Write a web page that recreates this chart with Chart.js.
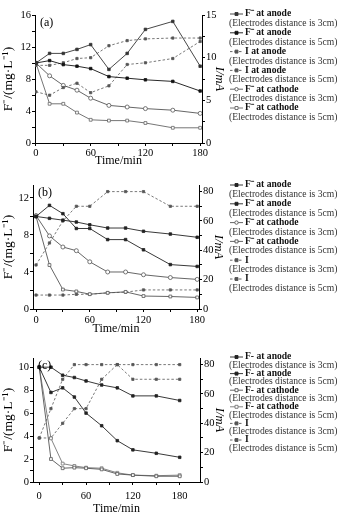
<!DOCTYPE html>
<html>
<head>
<meta charset="utf-8">
<script src="https://cdn.jsdelivr.net/npm/chart.js@4.4.1/dist/chart.umd.min.js"></script>
<style>
  body { margin: 0; background: #fff; }
  #wrap { position: relative; width: 359px; height: 514px; overflow: hidden; }
  canvas { position: absolute; left: 0; }
</style>
</head>
<body>
<div id="wrap">
  <canvas id="chartA" width="359" height="168" style="top:0px"></canvas>
  <canvas id="chartB" width="359" height="168" style="top:168px"></canvas>
  <canvas id="chartC" width="359" height="180" style="top:336px"></canvas>
</div>
<script>
// sampling times (min), same for all three panels
var timeMin = [0, 15, 30, 45, 60, 80, 100, 120, 150, 180];

// panel (a)  F- in mg/L (left), I in mA (right)
var aF_anode3 = [10, 11.2, 11.2, 11.7, 12.3, 9.2, 11.2, 14.2, 15.2, 9.6];
var aF_anode5 = [10, 10.3, 9.8, 9.6, 9.3, 8.3, 8.1, 7.9, 7.7, 6.5];
var aI_anode3 = [9.1, 9.1, 9.4, 9.9, 10.0, 11.4, 12.0, 12.2, 12.3, 12.3];
var aI_anode5 = [6.0, 5.6, 6.5, 7.0, 5.9, 6.7, 9.2, 9.4, 9.9, 11.9];
var aF_cathode3 = [10, 8.4, 7.2, 6.6, 5.6, 4.7, 4.5, 4.3, 4.1, 3.7];
var aF_cathode5 = [10, 4.9, 4.9, 3.8, 2.9, 2.8, 2.8, 2.5, 1.9, 1.9];

// panel (b)
var bF_anode3 = [10, 11.2, 10.3, 8.7, 8.7, 7.5, 7.5, 6.4, 4.8, 4.6];
var bF_anode5 = [10, 9.8, 9.6, 9.4, 9.1, 8.75, 8.75, 8.4, 8.1, 7.75];
var bF_cathode3 = [10.1, 7.9, 6.7, 6.3, 5.1, 4.0, 4.0, 3.7, 3.4, 3.2];
var bF_cathode5 = [10, 4.75, 2.1, 1.9, 1.6, 1.75, 1.85, 1.4, 1.35, 1.25];
var bI3 = [30, 45, 60, 70, 70, 80, 80, 80, 70, 70];
var bI5 = [9.5, 9.5, 9.5, 10, 10, 11, 11.5, 13, 13, 13];

// panel (c)
var cF_anode3 = [10, 10, 9.3, 9.1, 8.8, 8.45, 8.2, 7.5, 7.5, 7.1];
var cF_anode5 = [10, 7.8, 8.2, 7.4, 6.0, 4.9, 3.6, 2.8, 2.5, 2.15];
var cF_cathode3 = [10, 2.0, 1.2, 1.25, 1.2, 1.1, 0.7, 0.6, 0.5, 0.5];
var cF_cathode5 = [10, 3.8, 1.6, 1.4, 1.25, 1.2, 0.8, 0.6, 0.55, 0.6];
var cI3 = [30, 50, 70, 80, 80, 80, 80, 80, 80, 80];
var cI5 = [30, 30, 40, 50, 50, 70, 80, 70, 70, 70];

var sub3 = "(Electrodes distance is 3cm)";
var sub5 = "(Electrodes distance is 5cm)";

var serif = '"Liberation Serif", "Times New Roman", serif';

function pts(ys) {
  return timeMin.map(function (t, i) { return {x: t, y: ys[i]}; });
}

// line styles
function anode(label, sub, ys, color) {
  return {label: label, sub: sub, data: pts(ys), yAxisID: 'y', borderColor: color, borderWidth: 0.9,
    pointStyle: 'rect', pointRadius: 1.8, pointBackgroundColor: color, pointBorderColor: color, pointBorderWidth: 0.8};
}
function cathode(label, sub, ys, color, shape) {
  return {label: label, sub: sub, data: pts(ys), yAxisID: 'y', borderColor: color, borderWidth: 0.9,
    pointStyle: shape, pointRadius: 2, pointBackgroundColor: '#fff', pointBorderColor: color, pointBorderWidth: 0.8};
}
function current(label, sub, ys, color) {
  return {label: label, sub: sub, data: pts(ys), yAxisID: 'y1', borderColor: color, borderWidth: 0.8, borderDash: [2.5, 2],
    pointStyle: 'rect', pointRadius: 1.6, pointBackgroundColor: color, pointBorderColor: color, pointBorderWidth: 0.8};
}

function onSteps(step) {
  return function (axis) {
    axis.ticks = axis.ticks.filter(function (t) {
      return Math.abs(t.value / step - Math.round(t.value / step)) < 1e-6;
    });
  };
}
function labelEvery(n) {
  return function (v) {
    return Math.abs(v / n - Math.round(v / n)) < 1e-6 ? String(Math.round(v * 100) / 100) : '';
  };
}

// legend at the right side + panel letter
var sideLegend = {
  id: 'sideLegend',
  afterDraw: function (chart) {
    var o = chart.options.plugins.sideLegend;
    var ctx = chart.ctx;
    var ca = chart.chartArea;
    ctx.save();
    ctx.fillStyle = '#000';
    ctx.font = '12px ' + serif;
    ctx.textBaseline = 'middle';
    ctx.fillText(o.letter, ca.left + 5, ca.top + 8);

    chart.data.datasets.forEach(function (ds, i) {
      var y = o.y0 + i * 2 * o.dy;
      var x = o.x0;
      ctx.strokeStyle = ds.borderColor;
      ctx.lineWidth = 0.9;
      ctx.setLineDash(ds.borderDash || []);
      ctx.beginPath();
      ctx.moveTo(x + 1, y);
      ctx.lineTo(x + 14, y);
      ctx.stroke();
      ctx.setLineDash([]);
      ctx.fillStyle = ds.pointBackgroundColor;
      ctx.strokeStyle = ds.pointBorderColor;
      ctx.beginPath();
      if (ds.pointStyle === 'circle') ctx.arc(x + 7.5, y, 1.7, 0, Math.PI * 2);
      else ctx.rect(x + 6, y - 1.5, 3, 3);
      ctx.fill();
      ctx.stroke();

      ctx.fillStyle = '#111';
      ctx.font = 'bold 9.6px ' + serif;
      ctx.fillText(ds.label, x + 16, y);
      ctx.fillStyle = '#333';
      ctx.font = '9.6px ' + serif;
      ctx.fillText(ds.sub, x, y + o.dy);
    });
    ctx.restore();
  }
};

function makePanel(id, p) {
  var tickFont = {family: serif, size: 10.5};
  var axisLine = {color: '#000', width: 1};
  var grid = {drawOnChartArea: false, color: '#000', tickLength: 3, lineWidth: 1};
  new Chart(document.getElementById(id), {
    type: 'line',
    data: {datasets: p.datasets},
    options: {
      responsive: false,
      animation: false,
      devicePixelRatio: 1,
      layout: {padding: {top: p.padTop, right: 359 - p.right - p.rightW, left: 0, bottom: 0}},
      plugins: {legend: {display: false}, tooltip: {enabled: false},
        sideLegend: {letter: p.letter, x0: p.legX, y0: p.legY, dy: p.legDy}},
      scales: {
        x: {type: 'linear', min: p.xMin, max: p.xMax,
          afterBuildTicks: onSteps(30),
          afterFit: function (s) { s.height = p.xH; },
          ticks: {stepSize: 30, includeBounds: false, autoSkip: false, maxRotation: 0, padding: p.xPad, color: '#000', font: tickFont, callback: labelEvery(60)},
          grid: grid, border: axisLine,
          title: {display: true, text: 'Time/min', color: '#000', font: {family: serif, size: 12}, padding: 0}},
        y: {position: 'left', min: 0, max: p.yMax,
          afterBuildTicks: onSteps(p.yStep),
          afterFit: function (s) { s.width = p.left; },
          ticks: {stepSize: p.yStep, includeBounds: false, autoSkip: false, padding: 1, color: '#000', font: tickFont, callback: labelEvery(p.yLab)},
          grid: grid, border: axisLine,
          title: {display: true, text: 'F⁻/(mg·L⁻¹)', color: '#000', font: {family: serif, size: 13.5}, padding: 0}},
        y1: {position: 'right', min: 0, max: p.y1Max,
          afterBuildTicks: onSteps(p.y1Step),
          afterFit: function (s) { s.width = p.rightW; },
          ticks: {stepSize: p.y1Step, includeBounds: false, autoSkip: false, padding: 1, color: '#000', font: tickFont, callback: labelEvery(p.y1Lab)},
          grid: grid, border: axisLine,
          title: {display: true, text: 'I/mA', color: '#000', font: {family: serif, size: 12.5, style: 'italic'}, padding: 0}}
      }
    },
    plugins: [sideLegend]
  });
}

makePanel('chartA', {
  letter: '(a)', padTop: 15, left: 35, right: 202, rightW: 25, xH: 25, xPad: 1,
  xMin: -1, xMax: 182, yMax: 16, yStep: 2, yLab: 4, y1Max: 15, y1Step: 2.5, y1Lab: 5,
  legX: 229, legY: 14, legDy: 9.4,
  datasets: [
    anode('F⁻ at anode', sub3, aF_anode3, '#333'),
    anode('F⁻ at anode', sub5, aF_anode5, '#111'),
    current('I at anode', sub3, aI_anode3, '#555'),
    current('I at anode', sub5, aI_anode5, '#555'),
    cathode('F⁻ at cathode', sub3, aF_cathode3, '#555', 'circle'),
    cathode('F⁻ at cathode', sub5, aF_cathode5, '#666', 'rect')
  ]
});

makePanel('chartB', {
  letter: '(b)', padTop: 17, left: 33, right: 199, rightW: 27, xH: 27, xPad: 2,
  xMin: -3.4, xMax: 182, yMax: 13.4, yStep: 2, yLab: 4, y1Max: 84.5, y1Step: 10, y1Lab: 20,
  legX: 229, legY: 185 - 168, legDy: 9.4,
  datasets: [
    anode('F⁻ at anode', sub3, bF_anode3, '#222'),
    anode('F⁻ at anode', sub5, bF_anode5, '#222'),
    cathode('F⁻ at cathode', sub3, bF_cathode3, '#555', 'circle'),
    cathode('F⁻ at cathode', sub5, bF_cathode5, '#555', 'rect'),
    current('I', sub3, bI3, '#555'),
    current('I', sub5, bI5, '#555')
  ]
});

makePanel('chartC', {
  letter: '(c)', padTop: 22, left: 33, right: 200, rightW: 27, xH: 34, xPad: 5,
  xMin: -8, xMax: 206, yMax: 10.8, yStep: 1, yLab: 2, y1Max: 84.5, y1Step: 10, y1Lab: 20,
  legX: 229, legY: 357 - 336, legDy: 8.3,
  datasets: [
    anode('F- at anode', sub3, cF_anode3, '#222'),
    anode('F- at anode', sub5, cF_anode5, '#222'),
    cathode('F- at cathode', sub3, cF_cathode3, '#555', 'rect'),
    cathode('F- at cathode', sub5, cF_cathode5, '#777', 'rect'),
    current('I', sub3, cI3, '#555'),
    current('I', sub5, cI5, '#555')
  ]
});
</script>
</body>
</html>
